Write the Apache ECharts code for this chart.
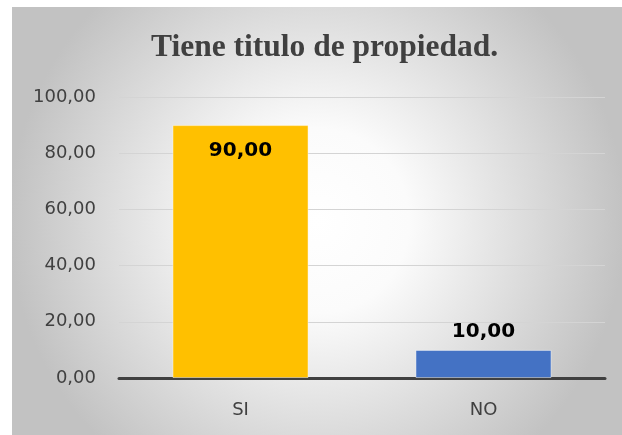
<!DOCTYPE html>
<html lang="es">
<head>
  <meta charset="UTF-8">
  <title>Tiene titulo de propiedad.</title>
  <script src="https://cdn.jsdelivr.net/npm/echarts@6/dist/echarts.min.js"></script>
</head>
<body style="margin:0;background:#fff;">
  <div id="main" style="width:622px;height:435px;"></div>
<script>
  var categories = ['SI', 'NO'];
  var values = [90, 10];
  var barColors = ['#FFC000', '#4472C4'];
  var labelPos = ['insideTop', 'top'];

  var myChart = echarts.init(document.getElementById('main'));

  function fmt(v) {
    return v.toFixed(2).replace('.', ',');
  }

  var option = {
    backgroundColor: '#ffffff',
    graphic: [{
      type: 'rect',
      left: 12,
      top: 7,
      shape: { width: 610, height: 428 },
      style: {
        fill: {
          type: 'radial', x: 0.5, y: 0.5, r: 0.72,
          colorStops: [
            { offset: 0, color: '#ffffff' },
            { offset: 0.3, color: '#fbfbfb' },
            { offset: 1, color: '#c2c2c2' }
          ]
        }
      },
      z: -10
    }],
    title: {
      text: 'Tiene titulo de propiedad.',
      left: 146,
      top: 27,
      textStyle: {
        fontFamily: 'Liberation Serif',
        fontWeight: 'bold',
        fontSize: 31.5,
        color: '#404040'
      }
    },
    grid: { left: 119, right: 17, top: 97, bottom: 57 },
    xAxis: {
      type: 'category',
      data: categories,
      axisTick: { show: false },
      axisLine: { lineStyle: { color: '#404040', width: 3 } },
      axisLabel: {
        color: '#404040', fontSize: 18, margin: 23,
        fontFamily: 'DejaVu Sans'
      }
    },
    yAxis: {
      type: 'value',
      min: 0, max: 100, interval: 20,
      axisLine: { show: false },
      axisTick: { show: false },
      splitLine: { lineStyle: { color: '#d4d4d4', width: 1 } },
      axisLabel: {
        color: '#404040', fontSize: 18, margin: 23,
        fontFamily: 'DejaVu Sans',
        formatter: fmt
      }
    },
    series: [{
      type: 'bar',
      barWidth: '56%',
      data: values.map(function (v, i) {
        return {
          value: v,
          itemStyle: { color: barColors[i], borderColor: 'rgba(255,255,255,0.45)', borderWidth: 1 },
          label: { position: labelPos[i], distance: labelPos[i] === 'top' ? 8 : 16 }
        };
      }),
      label: {
        show: true,
        fontFamily: 'DejaVu Sans',
        fontWeight: 'bold',
        fontSize: 20,
        color: '#000',
        formatter: function (p) { return fmt(p.value); }
      }
    }]
  };

  myChart.setOption(option);
</script>
</body>
</html>
